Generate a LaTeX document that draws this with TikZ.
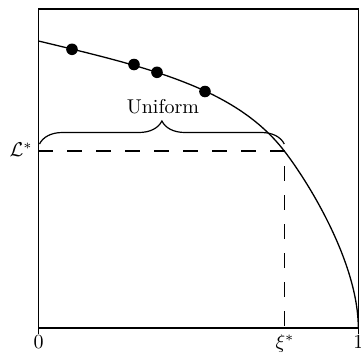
\documentclass[tikz,border=0pt]{standalone}
\usetikzlibrary{decorations.pathreplacing}
\begin{document}
\begin{tikzpicture}[x=0.5pt,y=-0.5pt,
  axisline/.style={line width=0.6pt},
  curveline/.style={line width=0.65pt},
  dashline/.style={line width=0.65pt,dash pattern=on 7.5pt off 7pt},
  dotmark/.style={circle,fill=black,inner sep=0pt,minimum size=5.8pt},
  lab/.style={inner sep=0pt,font=\fontsize{10}{12}\selectfont}]
\useasboundingbox (0,0) rectangle (361,354);
% frame
\draw[axisline] (38.5,9) rectangle (358.3,328);
\draw[axisline] (38.5,328) -- (38.5,334);
\draw[axisline] (358.3,328) -- (358.3,334);
% critical point and helpers
\coordinate (start) at (38.5,41);
\coordinate (crit) at (284.3,151);
\coordinate (finish) at (358.3,328);
\coordinate (lstar) at (38.5,151);
\coordinate (xstar) at (284.3,328);
% curve
\draw[curveline] (start) .. controls (148.5,67.4) and (235.5,87.8) .. (crit)
  .. controls (308.7,182.6) and (358.3,263) .. (finish);
% points on curve
\node[dotmark] (d1) at (72,49.3) {};
\node[dotmark] (d2) at (134,64.5) {};
\node[dotmark] (d3) at (157,72.3) {};
\node[dotmark] (d4) at (205,91.5) {};
% dashed guides
\draw[dashline] (lstar) -- (crit) -- (xstar);
% brace
\draw[axisline,decorate,decoration={brace,amplitude=11.5pt}] (39.5,144) -- (284.3,144);
\node[lab,anchor=base] (unif) at (163,113.3) {Uniform};
% labels
\node[lab,anchor=base east] (llab) at (33,156.5) {$\mathcal{L}^*$};
\node[lab,anchor=north] (zero) at (38.5,335) {0};
\node[lab,anchor=north] (xlab) at (285,334) {$\xi^*$};
\node[lab,anchor=north] (one) at (358.5,335) {1};
\end{tikzpicture}
\end{document}
